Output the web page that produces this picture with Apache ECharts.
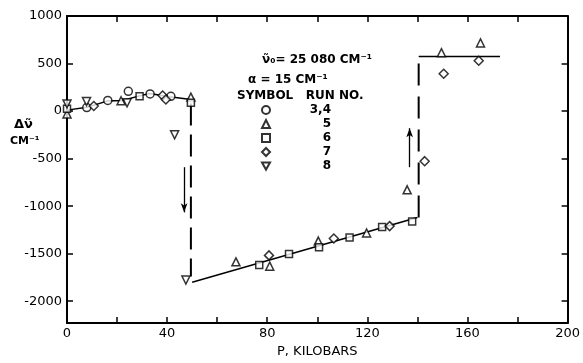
<!DOCTYPE html>
<html><head><meta charset="utf-8">
<script src="https://cdn.jsdelivr.net/npm/echarts@6/dist/echarts.min.js"></script>
<style>html,body{margin:0;padding:0;background:#fff}#c{width:583px;height:363px}</style>
</head><body><div id="c"></div>
<script>
// ---- data ----
const xTickLabels = [0, 40, 80, 120, 160, 200];
const xTicks = [0, 20, 40, 60, 80, 100, 120, 140, 160, 180, 200];
const yTickLabels = [1000, 500, 0, -500, -1000, -1500, -2000];
const runNames = ['3,4', '5', '6', '7', '8'];
const run34 = [[7.9, 37], [16.3, 112], [24.5, 208], [33.2, 180], [41.5, 155]];
const run5 = [[0, -30], [21.6, 109], [49.5, 147], [67.5, -1586], [81, -1631], [100.4, -1367], [119.7, -1282], [135.9, -828], [149.6, 614], [165.2, 717]];
const run6 = [[0, 25], [29, 157], [49.5, 88], [76.8, -1620], [88.7, -1504], [100.7, -1432], [112.9, -1330], [125.9, -1220], [137.9, -1162]];
const run7 = [[10.7, 54], [38.2, 163], [39.5, 122], [80.7, -1518], [106.6, -1340], [128.9, -1210], [142.9, -527], [150.5, 392], [164.5, 529]];
const run8 = [[0, 75], [7.8, 101], [24, 88], [43, -250], [47.5, -1777]];
const fitLow = [[0, 10], [8, 40], [16, 105], [22, 112], [29, 160], [33, 185], [41, 150], [49.5, 122]];
const fitMid = [[50, -1800], [140, -1120]];
const fitHigh = [[140.5, 573], [173, 573]];
const dashDown = [[49.5, 80], [49.5, -1740]];
const dashUp = [[140.5, -1120], [140.5, 573]];
const arrowDown = [[46.8, -590], [46.8, -1065]];
const arrowUp = [[136.9, -590], [136.9, -180]];

const runData = [run34, run5, run6, run7, run8];
const symbols = ['circle', 'triangle', 'rect', 'diamond', 'path://M0,0 L10,0 L5,9 Z'];

const FONT = 'DejaVu Sans';
const chart = echarts.init(document.getElementById('c'), null, {renderer: 'canvas'});

const lineStyleBase = {color: '#000', width: 1.5};
const series = [];
series.push({type: 'line', data: fitLow, symbol: 'none', lineStyle: lineStyleBase, silent: true, z: 1});
series.push({type: 'line', data: fitMid, symbol: 'none', lineStyle: lineStyleBase, silent: true, z: 1});
series.push({type: 'line', data: fitHigh, symbol: 'none', lineStyle: lineStyleBase, silent: true, z: 1});
series.push({type: 'line', data: dashDown, symbol: 'none', lineStyle: {color: '#000', width: 2, type: [22, 9]}, silent: true, z: 1});
series.push({type: 'line', data: dashUp, symbol: 'none', lineStyle: {color: '#000', width: 2, type: [22, 11]}, silent: true, z: 1});
series.push({type: 'line', data: [], symbol: 'none', silent: true,
  markLine: {silent: true, symbol: ['none', 'arrow'], symbolSize: [5, 9], label: {show: false},
    lineStyle: {color: '#000', width: 1.3, type: 'solid'},
    data: [[{coord: arrowDown[0]}, {coord: arrowDown[1]}], [{coord: arrowUp[0]}, {coord: arrowUp[1]}]]}});
runData.forEach((d, i) => {
  series.push({
    type: 'scatter', name: runNames[i], data: d, symbol: symbols[i],
    symbolSize: i === 2 ? 7 : (i === 3 ? 9 : 8),
    itemStyle: {color: '#fff', borderColor: '#000', borderWidth: 1.5}, z: 3
  });
});

const option = {
  animation: false,
  backgroundColor: '#fff',
  grid: {left: 67, right: 14, top: 16, bottom: 33},
  legend: {
    data: runNames, orient: 'vertical', left: 261, top: 104,
    itemWidth: 8, itemHeight: 8, itemGap: 2, padding: 0, selectedMode: false,
    formatter: name => '{n|' + name + '}',
    textStyle: {fontFamily: FONT, fontSize: 12, fontWeight: 'bold', color: '#000', lineHeight: 12,
      rich: {n: {width: 56, align: 'right', fontFamily: FONT, fontSize: 12, fontWeight: 'bold', color: '#000', lineHeight: 12}}}
  },
  xAxis: [{
    type: 'value', min: 0, max: 200, interval: 20,
    axisLine: {show: true, onZero: false, lineStyle: {color: '#000', width: 2}},
    axisTick: {show: true, inside: true, length: 6, customValues: xTicks, lineStyle: {color: '#000', width: 1.5}},
    axisLabel: {customValues: xTickLabels, margin: 4, fontFamily: FONT, fontSize: 13, color: '#000', formatter: v => String(v)},
    splitLine: {show: false},
    name: 'P, KILOBARS', nameLocation: 'middle', nameGap: 19,
    nameTextStyle: {fontFamily: FONT, fontSize: 13, color: '#000'}
  }, {
    type: 'value', min: 0, max: 200, interval: 20, position: 'top',
    axisLine: {show: true, onZero: false, lineStyle: {color: '#000', width: 2}},
    axisTick: {show: true, inside: true, length: 6, customValues: xTicks, lineStyle: {color: '#000', width: 1.5}},
    axisLabel: {show: false}, splitLine: {show: false}
  }],
  yAxis: [{
    type: 'value', min: -2230, max: 1000,
    axisLine: {show: true, onZero: false, lineStyle: {color: '#000', width: 2}},
    axisTick: {show: true, inside: true, length: 6, customValues: yTickLabels, lineStyle: {color: '#000', width: 1.5}},
    axisLabel: {customValues: yTickLabels, margin: 5, fontFamily: FONT, fontSize: 13, color: '#000', formatter: v => String(v)},
    splitLine: {show: false}
  }, {
    type: 'value', min: -2230, max: 1000, position: 'right',
    axisLine: {show: true, onZero: false, lineStyle: {color: '#000', width: 2}},
    axisTick: {show: true, inside: true, length: 6, customValues: yTickLabels, lineStyle: {color: '#000', width: 1.5}},
    axisLabel: {show: false}, splitLine: {show: false}
  }],
  graphic: [
    {type: 'text', left: 14, top: 118, style: {text: 'Δν̃', font: 'bold 13px "DejaVu Sans"', fill: '#000'}},
    {type: 'text', left: 10, top: 136, style: {text: 'CM⁻¹', font: 'bold 11px "DejaVu Sans"', fill: '#000'}},
    {type: 'text', left: 262, top: 54, style: {text: 'ν̃₀= 25 080 CM⁻¹', font: 'bold 12px "DejaVu Sans"', fill: '#000'}},
    {type: 'text', left: 248, top: 74, style: {text: 'α = 15 CM⁻¹', font: 'bold 12px "DejaVu Sans"', fill: '#000'}},
    {type: 'text', left: 237, top: 90, style: {text: 'SYMBOL   RUN NO.', font: 'bold 12px "DejaVu Sans"', fill: '#000'}}
  ],
  series: series
};
chart.setOption(option);
</script>
</body></html>
